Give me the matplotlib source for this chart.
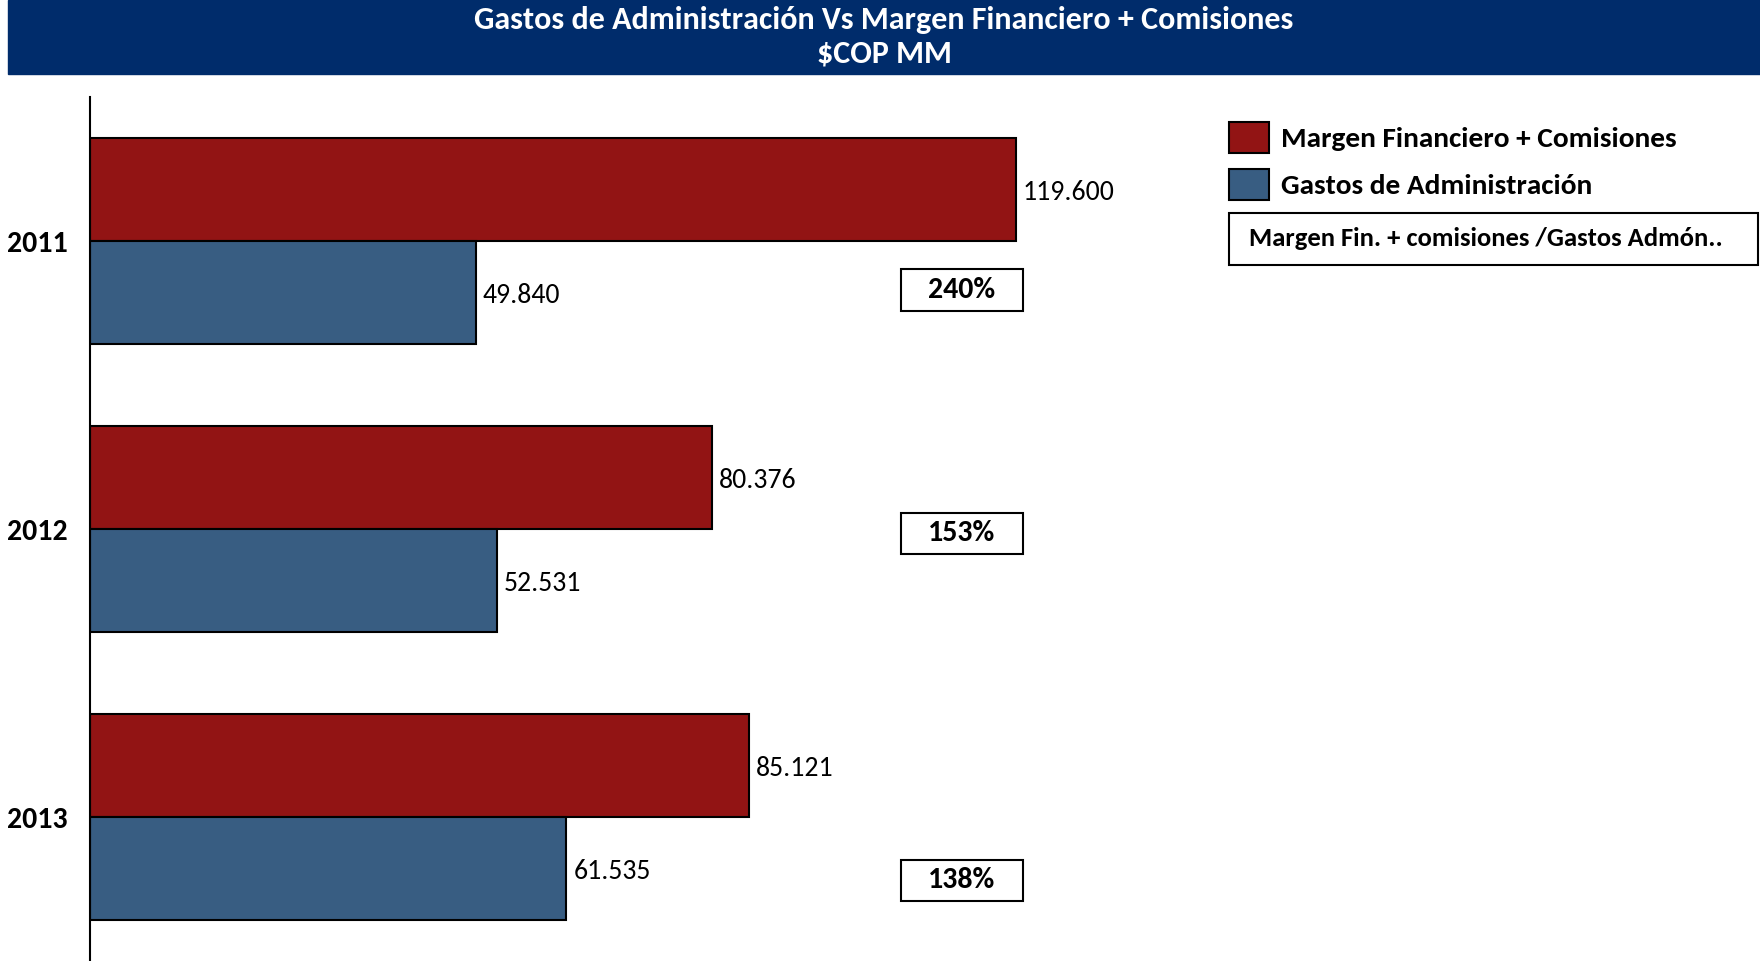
import matplotlib

matplotlib.use("Agg")
import matplotlib.pyplot as plt

plt.rcParams["font.family"] = ["Carlito", "DejaVu Sans"]

years = ["2011", "2012", "2013"]
margen = [119600, 80376, 85121]
gastos = [49840, 52531, 61535]
ratio_labels = ["240%", "153%", "138%"]
ratio_offsets = [0.17, 0.015, 0.22]

RED = "#921414"
BLUE = "#385D82"
NAVY = "#002C6B"
PX_PER_UNIT = 7.742 / 1000  # horizontal pixels per COP MM


def fmt(v):
    return f"{v:,}".replace(",", ".")


fig = plt.figure(figsize=(17.6, 9.61), dpi=100)

# title banner
fig.patches.append(plt.Rectangle((8 / 1760, 1 - 74 / 961), 1752 / 1760, 74 / 961,
                                 transform=fig.transFigure, color=NAVY, zorder=0))
fig.text(884 / 1760, 1 - 20 / 961, "Gastos de Administración Vs Margen Financiero + Comisiones",
         ha="center", va="center", color="white", fontsize=23, fontweight="bold")
fig.text(884 / 1760, 1 - 54 / 961, "$COP MM",
         ha="center", va="center", color="white", fontsize=23, fontweight="bold")

ax = fig.add_axes([90 / 1760, 0.0, 1670 / 1760, 1 - 97 / 961])
pos = list(range(len(years)))
h = 0.358
b1 = ax.barh([p - h / 2 for p in pos], margen, height=h, color=RED,
             edgecolor="black", linewidth=1.5, label="Margen Financiero + Comisiones")
b2 = ax.barh([p + h / 2 for p in pos], gastos, height=h, color=BLUE,
             edgecolor="black", linewidth=1.5, label="Gastos de Administración")

for bars, vals in ((b1, margen), (b2, gastos)):
    for rect, v in zip(bars, vals):
        ax.annotate(fmt(v), (rect.get_width(), rect.get_y() + rect.get_height() / 2),
                    xytext=(5, -2), textcoords="offset points", va="center",
                    ha="left", fontsize=20)

# ratio boxes
bw = 122 / PX_PER_UNIT
bh = 41 / 287
for p, lab, off in zip(pos, ratio_labels, ratio_offsets):
    xc = (962 - 90) / PX_PER_UNIT
    ax.add_patch(plt.Rectangle((xc - bw / 2, p + off - bh / 2), bw, bh,
                               fc="white", ec="black", lw=1.5, zorder=3))
    ax.text(xc, p + off, lab, ha="center", va="center", fontsize=21.5,
            fontweight="bold", zorder=4)

ax.set_xlim(0, 1670 / PX_PER_UNIT)
ax.set_ylim(2.5, -0.5)
ax.set_yticks(pos)
ax.set_yticklabels(years, fontsize=21.5, fontweight="bold")
ax.tick_params(axis="y", length=0, pad=16)
ax.set_xticks([])
for s in ("top", "right", "bottom"):
    ax.spines[s].set_visible(False)
ax.spines["left"].set_linewidth(1.5)

leg = fig.legend(handles=[b1, b2], loc="upper left",
                 bbox_to_anchor=(1208 / 1760, 1 - 101 / 961), frameon=False,
                 fontsize=21.2, handlelength=1.38, handleheight=1.24,
                 handletextpad=0.4, labelspacing=0.55, borderpad=0.2)
for t in leg.get_texts():
    t.set_fontweight("bold")
for p in leg.get_patches():
    p.set_linewidth(1.5)

fig.text(1486 / 1760, 1 - 239 / 961, "Margen Fin. + comisiones /Gastos Admón..",
         ha="center", va="center", fontsize=19.2, fontweight="bold")
fig.patches.append(plt.Rectangle((1229 / 1760, 1 - 265 / 961), 529 / 1760, 52 / 961,
                                 transform=fig.transFigure, fc="white", ec="black",
                                 lw=1.5, zorder=0))

fig.savefig("out.png", dpi=100)
